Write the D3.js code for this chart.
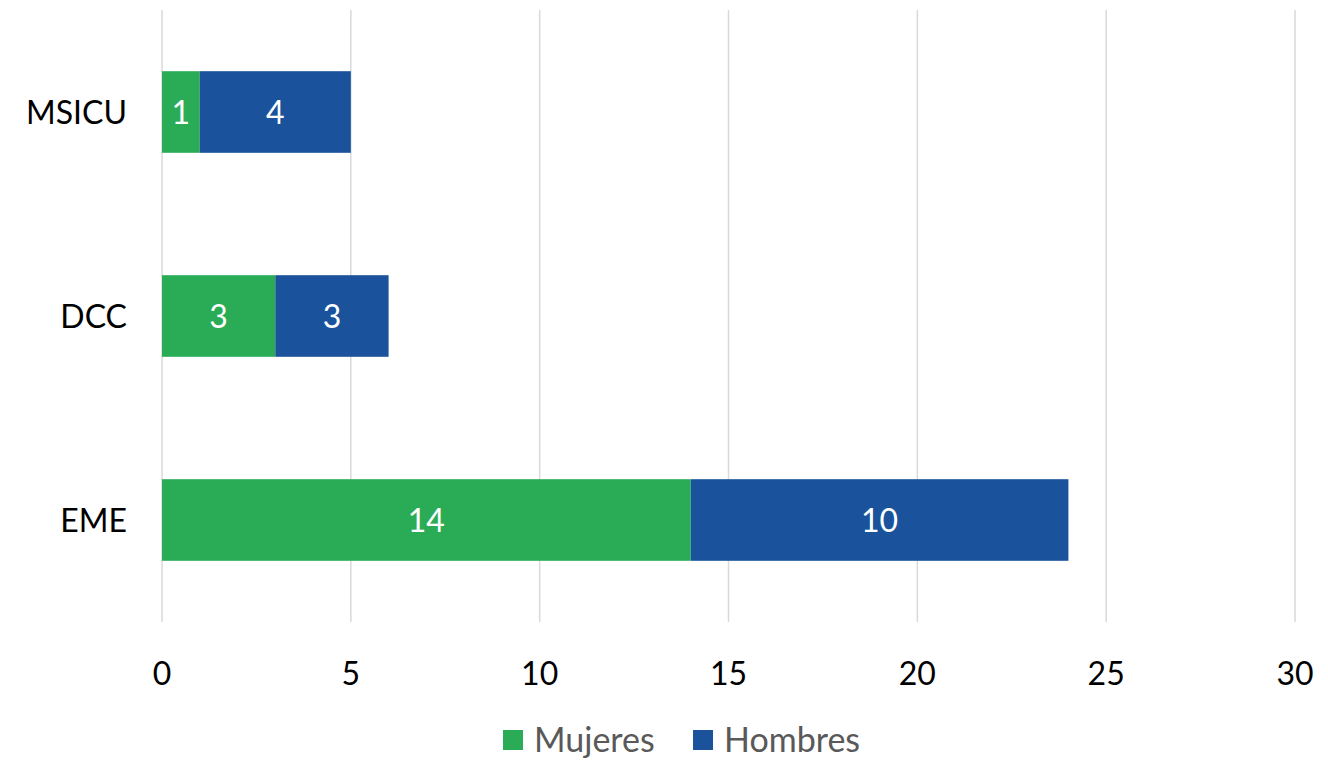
<!DOCTYPE html>
<html>
<head>
<meta charset="utf-8">
<script src="https://cdn.jsdelivr.net/npm/d3@7"></script>
<style>
  body { margin: 0; background: #fff; }
  text { font-family: Lato, "Open Sans", sans-serif; }
</style>
</head>
<body>
<div id="chart"></div>
<script>
// data
var categories = ["MSICU", "DCC", "EME"];
var mujeres = [1, 3, 14];
var hombres = [4, 3, 10];
var seriesNames = ["Mujeres", "Hombres"];
var seriesColors = ["#2aac57", "#1a539c"];
var xTicks = [0, 5, 10, 15, 20, 25, 30];

var width = 1328, height = 761;
var margin = {top: 10, left: 162, right: 33, bottom: 139};

var svg = d3.select("#chart").append("svg")
  .attr("width", width)
  .attr("height", height);

var x = d3.scaleLinear()
  .domain([0, 30])
  .range([margin.left, width - margin.right]);

var y = d3.scaleBand()
  .domain(categories)
  .range([margin.top, height - margin.bottom])
  .paddingInner(0.6)
  .paddingOuter(0.3);

// gridlines
svg.append("g").attr("class", "grid")
  .selectAll("line")
  .data(xTicks)
  .join("line")
  .attr("x1", d => x(d)).attr("x2", d => x(d))
  .attr("y1", margin.top).attr("y2", height - margin.bottom)
  .attr("stroke", "#d9d9d9")
  .attr("stroke-width", 1.5);

// x axis labels
svg.append("g").attr("class", "xAxis")
  .selectAll("text")
  .data(xTicks)
  .join("text")
  .attr("x", d => x(d))
  .attr("y", 685)
  .attr("text-anchor", "middle")
  .style("font-size", "32px")
  .attr("fill", "#000")
  .text(d => d);

// y axis labels
svg.append("g").attr("class", "yAxis")
  .selectAll("text")
  .data(categories)
  .join("text")
  .attr("x", 127)
  .attr("y", d => y(d) + y.bandwidth() / 2)
  .attr("dy", "0.36em")
  .attr("text-anchor", "end")
  .style("font-size", "32px")
  .attr("fill", "#000")
  .text(d => d);

// stacked bars
var rows = categories.map((c, i) => ({cat: c, Mujeres: mujeres[i], Hombres: hombres[i]}));
var stacked = d3.stack().keys(seriesNames)(rows);

var groups = svg.append("g").attr("class", "bars")
  .selectAll("g")
  .data(stacked)
  .join("g")
  .attr("fill", (d, i) => seriesColors[i]);

groups.selectAll("rect")
  .data(d => d)
  .join("rect")
  .attr("x", d => x(d[0]))
  .attr("width", d => x(d[1]) - x(d[0]))
  .attr("y", d => y(d.data.cat))
  .attr("height", y.bandwidth());

groups.selectAll("text")
  .data(d => d)
  .join("text")
  .attr("x", d => (x(d[0]) + x(d[1])) / 2)
  .attr("y", d => y(d.data.cat) + y.bandwidth() / 2)
  .attr("dy", "0.36em")
  .attr("text-anchor", "middle")
  .style("font-size", "32px")
  .attr("fill", "#fff")
  .text(d => d[1] - d[0]);

// legend
var legend = svg.append("g").attr("class", "legend");
var legendX = [503, 693];
seriesNames.forEach((name, i) => {
  legend.append("rect")
    .attr("x", legendX[i])
    .attr("y", 730)
    .attr("width", 20)
    .attr("height", 20)
    .attr("fill", seriesColors[i]);
  legend.append("text")
    .attr("x", legendX[i] + 31)
    .attr("y", 752)
    .style("font-size", "34px")
    .attr("fill", "#595959")
    .text(name);
});
</script>
</body>
</html>
